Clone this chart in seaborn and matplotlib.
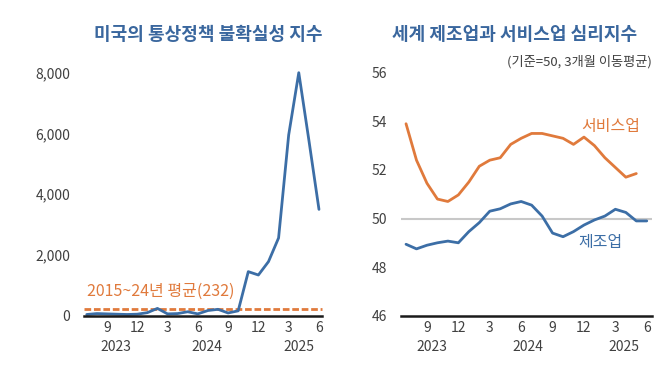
import matplotlib
matplotlib.use("Agg")
import matplotlib.pyplot as plt
import matplotlib.transforms as mtransforms
import seaborn as sns
import pandas as pd

sns.set_style("white")
plt.rcParams['font.family'] = ['Noto Sans CJK KR', 'DejaVu Sans']

# ---- data ----
months = ["2023-07", "2023-08", "2023-09", "2023-10", "2023-11", "2023-12",
          "2024-01", "2024-02", "2024-03", "2024-04", "2024-05", "2024-06",
          "2024-07", "2024-08", "2024-09", "2024-10", "2024-11", "2024-12",
          "2025-01", "2025-02", "2025-03", "2025-04", "2025-05", "2025-06"]
tpu = [40, 70, 60, 50, 40, 50, 100, 240, 60, 70, 130, 60,
       170, 210, 90, 160, 1450, 1340, 1780, 2560, 5950, 8000, 5780, 3500]
tpu_avg = 232
services = [53.9, 52.4, 51.45, 50.8, 50.7, 50.97, 51.5, 52.15, 52.4, 52.5, 53.05, 53.3,
            53.5, 53.5, 53.4, 53.3, 53.05, 53.35, 53.0, 52.5, 52.1, 51.7, 51.85]
manufacturing = [48.94, 48.75, 48.9, 49.0, 49.07, 49.0, 49.46, 49.83, 50.3, 50.4, 50.6, 50.7,
                 50.55, 50.1, 49.4, 49.25, 49.46, 49.73, 49.94, 50.1, 50.38, 50.25, 49.9, 49.9]
tick_idx = [2, 5, 8, 11, 14, 17, 20, 23]
tick_labels = ["9", "12", "3", "6", "9", "12", "3", "6"]
years = ["2023", "2024", "2025"]

BLUE = "#3C6EA6"
ORANGE = "#E07A3C"
TITLE = "#3A679E"
TXT = "#404040"

df_l = pd.DataFrame({"idx": range(len(months)), "v": tpu})
df_s = pd.DataFrame({"idx": range(len(services)), "v": services})
df_m = pd.DataFrame({"idx": range(len(manufacturing)), "v": manufacturing})

fig = plt.figure(figsize=(6.67, 3.78), dpi=100)
W, H = 667, 378
def box(l, r, top, bot):
    return [l / W, 1 - bot / H, (r - l) / W, (bot - top) / H]

axL = fig.add_axes(box(84, 322, 72.7, 315.7))
axR = fig.add_axes(box(401, 652, 72.7, 315.7))

# ---- left chart ----
axL.axhline(tpu_avg, color=ORANGE, lw=2.0, dashes=(2.4, 1.0), zorder=2)
sns.lineplot(data=df_l, x="idx", y="v", ax=axL, color=BLUE, lw=2.0, zorder=3)
for ln in axL.lines:
    ln.set_clip_on(False)
axL.set_ylim(0, 8000)
axL.set_xlim(-0.27, 23.3)
axL.set_yticks([0, 2000, 4000, 6000, 8000])
axL.set_yticklabels([f"{v:,}" for v in [0, 2000, 4000, 6000, 8000]])
axL.text(0.0, 790, "2015~24년 평균(232)", color=ORANGE, fontsize=11.5,
         ha="left", va="center")

# ---- right chart ----
axR.axhline(50, color="#C8C8C8", lw=1.5, zorder=1)
sns.lineplot(data=df_s, x="idx", y="v", ax=axR, color=ORANGE, lw=2.0, zorder=3)
sns.lineplot(data=df_m, x="idx", y="v", ax=axR, color=BLUE, lw=2.0, zorder=3)
axR.set_ylim(46, 56)
axR.set_xlim(-0.48, 23.5)
axR.set_yticks([46, 48, 50, 52, 54, 56])
axR.text(16.7, 53.8, "서비스업", color=ORANGE, fontsize=11.5, ha="left", va="center")
axR.text(16.5, 49.0, "제조업", color=BLUE, fontsize=11.5, ha="left", va="center")

year_pos = {axL: [2.9, 11.9, 21.0], axR: [2.5, 11.6, 20.8]}
for ax in (axL, axR):
    ax.set_xlabel("")
    ax.set_ylabel("")
    ax.set_xticks(tick_idx)
    ax.set_xticklabels(tick_labels)
    ax.tick_params(axis="both", length=0, labelsize=10, colors=TXT, pad=10)
    ax.tick_params(axis="x", pad=4)
    for s in ("left", "right", "top"):
        ax.spines[s].set_visible(False)
    ax.spines["bottom"].set_color("#1a1a1a")
    ax.spines["bottom"].set_linewidth(1.8)
    ax.spines["bottom"].set_zorder(5)
    trans = mtransforms.blended_transform_factory(ax.transData, ax.transAxes)
    for xp, yr in zip(year_pos[ax], years):
        ax.text(xp, -0.13, yr, transform=trans, ha="center", va="center",
                fontsize=10, color=TXT)

fig.text(208 / W, 1 - 35 / H, "미국의 통상정책 불확실성 지수", color=TITLE,
         fontsize=13, fontweight="bold", ha="center", va="center")
fig.text(515 / W, 1 - 34 / H, "세계 제조업과 서비스업 심리지수", color=TITLE,
         fontsize=13, fontweight="bold", ha="center", va="center")
fig.text(652 / W, 1 - 62 / H, "(기준=50, 3개월 이동평균)", color=TXT,
         fontsize=9.5, ha="right", va="center")

fig.savefig("out.png", dpi=100)
